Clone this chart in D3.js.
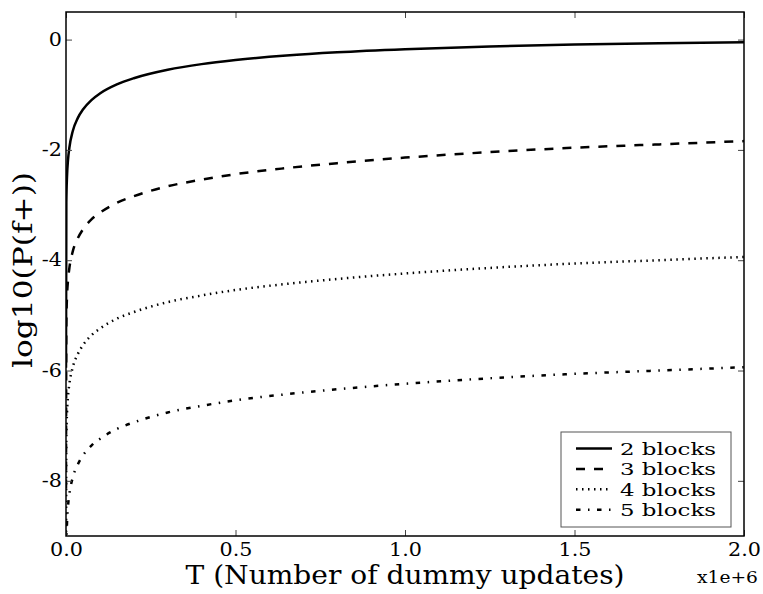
<!DOCTYPE html>
<html>
<head>
<meta charset="utf-8">
<script src="https://cdn.jsdelivr.net/npm/d3@7"></script>
<style>
  html, body { margin: 0; padding: 0; background: #fff; }
  svg { display: block; }
  text { font-family: "DejaVu Serif", serif; fill: #000; }
</style>
</head>
<body>
<svg id="chart" width="763" height="594"></svg>
<script>
// ---- data (T in units of 1e6 dummy updates, values are log10(P(f+))) ----
const T = [0.000001, 0.001, 0.003, 0.006, 0.01, 0.02, 0.035, 0.05, 0.075, 0.1, 0.15, 0.2, 0.3, 0.4, 0.5, 0.65, 0.8, 1.0, 1.25, 1.5, 1.75, 2.0];
const blocks2 = [-5.95, -2.955, -2.478, -2.178, -1.957, -1.658, -1.419, -1.268, -1.097, -0.978, -0.814, -0.701, -0.548, -0.445, -0.371, -0.289, -0.230, -0.174, -0.125, -0.091, -0.067, -0.050];
const blocks3 = [-8.14, -5.14, -4.66, -4.36, -4.14, -3.84, -3.60, -3.44, -3.26, -3.14, -2.96, -2.84, -2.66, -2.54, -2.44, -2.33, -2.24, -2.14, -2.04, -1.96, -1.90, -1.84];
const blocks4 = [-10.24, -7.24, -6.76, -6.46, -6.24, -5.94, -5.70, -5.54, -5.36, -5.24, -5.06, -4.94, -4.76, -4.64, -4.54, -4.43, -4.34, -4.24, -4.14, -4.06, -4.00, -3.94];
const blocks5 = [-12.24, -9.24, -8.76, -8.46, -8.24, -7.94, -7.70, -7.54, -7.36, -7.24, -7.06, -6.94, -6.76, -6.64, -6.54, -6.43, -6.34, -6.24, -6.14, -6.06, -6.00, -5.94];
const seriesNames = ["2 blocks", "3 blocks", "4 blocks", "5 blocks"];
const xTicks = [0, 0.5, 1.0, 1.5, 2.0];
const xTickLabels = ["0.0", "0.5", "1.0", "1.5", "2.0"];
const yTicks = [0, -2, -4, -6, -8];
const yTickLabels = ["0", "-2", "-4", "-6", "-8"];

const series = [blocks2, blocks3, blocks4, blocks5].map((vals, i) => ({
  name: seriesNames[i],
  points: T.map((t, j) => ({ t: t, v: vals[j] }))
}));
const dashes = [null, "9,9", "1.5,4.5", "4.5,7.5,1.5,7.5"];

// ---- layout ----
const L = 66, R = 744, Tp = 12, B = 536;
const svg = d3.select("#chart");
const x = d3.scaleLinear().domain([0, 2.0]).range([L, R]);
const y = d3.scaleLinear().domain([-9, 0.5]).range([B, Tp]);

svg.append("defs").append("clipPath").attr("id", "plotclip")
  .append("rect").attr("x", L).attr("y", Tp).attr("width", R - L).attr("height", B - Tp);

// lines
const line = d3.line().x(d => x(d.t)).y(d => y(d.v)).curve(d3.curveMonotoneX);
const lg = svg.append("g").attr("clip-path", "url(#plotclip)");
series.forEach((s, i) => {
  lg.append("path").datum(s.points)
    .attr("d", line)
    .attr("fill", "none")
    .attr("stroke", "#000")
    .attr("stroke-width", 2.5)
    .attr("stroke-dasharray", dashes[i]);
});

// axes (inward ticks on all sides)
const tickStroke = "#444";
function styleAxis(g) {
  g.select(".domain").remove();
  g.selectAll(".tick line").attr("stroke", tickStroke).attr("stroke-width", 1);
}
const xFmt = (d) => xTickLabels[xTicks.indexOf(d)];
const yFmt = (d) => yTickLabels[yTicks.indexOf(d)];

const gx = svg.append("g").attr("transform", `translate(0,${B})`)
  .call(d3.axisBottom(x).tickValues(xTicks).tickFormat(xFmt).tickSize(-6).tickPadding(7));
styleAxis(gx);
gx.selectAll(".tick text")
  .attr("font-size", 18).attr("font-family", "DejaVu Serif").attr("fill", "#000")
  .attr("transform", "scale(1.15,1)");

const gxt = svg.append("g").attr("transform", `translate(0,${Tp})`)
  .call(d3.axisTop(x).tickValues(xTicks).tickFormat("").tickSize(-6));
styleAxis(gxt);

const gy = svg.append("g").attr("transform", `translate(${L},0)`)
  .call(d3.axisLeft(y).tickValues(yTicks).tickFormat(yFmt).tickSize(-6));
styleAxis(gy);
gy.selectAll(".tick text")
  .attr("font-size", 18).attr("font-family", "DejaVu Serif").attr("fill", "#000")
  .attr("x", -3.5).attr("transform", "scale(1.15,1)");

const gyr = svg.append("g").attr("transform", `translate(${R},0)`)
  .call(d3.axisRight(y).tickValues(yTicks).tickFormat("").tickSize(-6));
styleAxis(gyr);

// frame (spines)
svg.append("rect").attr("x", L).attr("y", Tp).attr("width", R - L).attr("height", B - Tp)
  .attr("fill", "none").attr("stroke", "#000").attr("stroke-width", 1.5);

// axis labels
svg.append("text").attr("x", (L + R) / 2).attr("y", 584)
  .attr("text-anchor", "middle").attr("font-size", 26)
  .attr("textLength", 439).attr("lengthAdjust", "spacingAndGlyphs")
  .text("T (Number of dummy updates)");

svg.append("text").attr("transform", "translate(32,270) rotate(-90)")
  .attr("text-anchor", "middle").attr("font-size", 26)
  .attr("textLength", 196).attr("lengthAdjust", "spacingAndGlyphs")
  .text("log10(P(f+))");

svg.append("text").attr("x", 758).attr("y", 583)
  .attr("text-anchor", "end").attr("font-size", 16)
  .attr("textLength", 61).attr("lengthAdjust", "spacingAndGlyphs")
  .text("x1e+6");

// legend
const leg = svg.append("g");
leg.append("rect").attr("x", 561).attr("y", 432).attr("width", 170).attr("height", 95)
  .attr("fill", "#fff").attr("stroke", "#555").attr("stroke-width", 1);
series.forEach((s, i) => {
  const cy = 448.5 + i * 20.4;
  leg.append("line").attr("x1", 576).attr("x2", 612).attr("y1", cy).attr("y2", cy)
    .attr("stroke", "#000").attr("stroke-width", 2.5).attr("stroke-dasharray", dashes[i]);
  leg.append("text").attr("x", 620).attr("y", cy + 6.5)
    .attr("font-size", 17.5)
    .attr("textLength", 96).attr("lengthAdjust", "spacingAndGlyphs")
    .text(s.name);
});
</script>
</body>
</html>
